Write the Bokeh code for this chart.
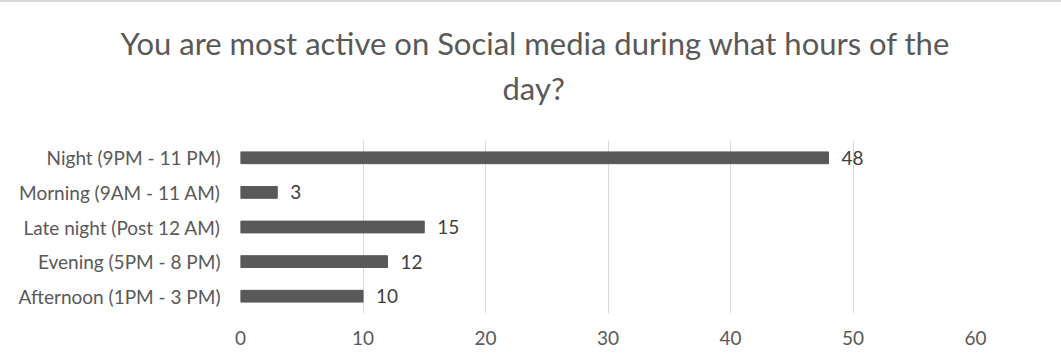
from bokeh.plotting import figure
from bokeh.models import ColumnDataSource, LabelSet, Title, FactorRange, SingleIntervalTicker
from bokeh.core.properties import value
from bokeh.embed import file_html
from bokeh.resources import INLINE

categories = ["Night (9PM - 11 PM)", "Morning (9AM - 11 AM)", "Late night (Post 12 AM)",
              "Evening (5PM - 8 PM)", "Afternoon (1PM - 3 PM)"]
values = [48, 3, 15, 12, 10]
title_lines = ["You are most active on Social media during what hours of the", "day?"]

FONT = "Lato"
src = ColumnDataSource(dict(cat=categories, val=values, lab=[str(v) for v in values]))

p = figure(width=1061, height=352, output_backend="svg", toolbar_location=None,
           y_range=FactorRange(*reversed(categories)), x_range=(0, 60),
           min_border_left=240, min_border_right=86, min_border_top=138, min_border_bottom=41)
p.title.visible = False

p.hbar(y="cat", right="val", height=0.34, source=src, color="#595959")

labels = LabelSet(x="val", y="cat", text="lab", source=src, x_offset=13, y_offset=0,
                  text_baseline="middle", text_color="#404040", text_font_size="19px",
                  text_font=value(FONT))
p.add_layout(labels)


def make_title(text, offset, standoff):
    return Title(text=text, align="left", offset=offset, text_font=FONT,
                 text_font_size="31px", text_font_style="normal", text_color="#595959",
                 standoff=standoff)


# second line sits nearest the frame, first line above it
p.add_layout(make_title(title_lines[1], 262, 68), "above")
p.add_layout(make_title(title_lines[0], -120, -58), "above")

p.outline_line_color = None
p.ygrid.grid_line_color = None
p.xgrid.grid_line_color = "#d9d9d9"
p.xaxis.ticker = SingleIntervalTicker(interval=10)
p.xaxis.axis_line_color = None
p.xaxis.major_tick_line_color = None
p.xaxis.minor_tick_line_color = None
p.xaxis.major_label_standoff = 11
p.xaxis.major_label_text_font = FONT
p.xaxis.major_label_text_font_size = "19px"
p.xaxis.major_label_text_color = "#595959"
p.yaxis.axis_line_color = None
p.yaxis.major_tick_line_color = None
p.yaxis.minor_tick_line_color = None
p.yaxis.major_label_standoff = 14
p.yaxis.major_label_text_font = FONT
p.yaxis.major_label_text_font_size = "19px"
p.yaxis.major_label_text_color = "#595959"
p.y_range.range_padding = 0
p.styles = {"border-top": "2px solid #d9d9d9"}

open("out.html", "w").write(file_html(p, INLINE))
